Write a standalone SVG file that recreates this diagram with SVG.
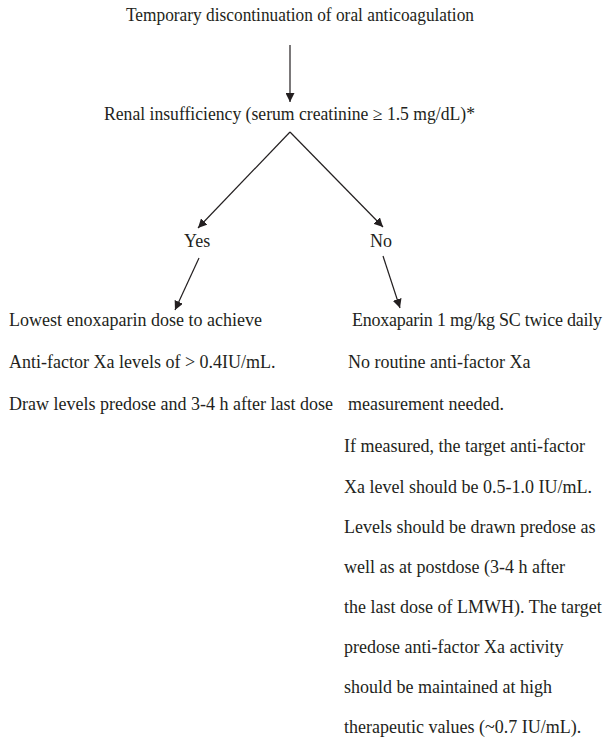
<svg xmlns="http://www.w3.org/2000/svg" width="607" height="740" viewBox="0 0 607 740">
<style>
text{font-family:"Liberation Serif","Times New Roman",serif;font-size:18px;fill:#231f20}
.c{stroke:#231f20;stroke-width:1.2;fill:none}
</style>
<defs>
<marker id="ah" viewBox="0 0 10 10" refX="10" refY="5" markerWidth="9" markerHeight="9" markerUnits="userSpaceOnUse" orient="auto">
<path d="M0,0 L10,5 L0,10 z" fill="#231f20"/>
</marker>
</defs>
<rect width="607" height="740" fill="#fff"/>
<g id="connectors">
<line class="c" x1="290" y1="45" x2="290" y2="102" stroke="#555" marker-end="url(#ah)"/>
<line class="c" x1="290" y1="132" x2="198" y2="228" marker-end="url(#ah)"/>
<line class="c" x1="290" y1="132" x2="383" y2="227" marker-end="url(#ah)"/>
<line class="c" x1="199" y1="258" x2="175" y2="310" marker-end="url(#ah)"/>
<line class="c" x1="383" y1="256" x2="400" y2="308" marker-end="url(#ah)"/>
</g>
<g id="start"><text x="126" y="21" textLength="348" lengthAdjust="spacingAndGlyphs">Temporary discontinuation of oral anticoagulation</text></g>
<g id="renal"><text x="104" y="120" textLength="371" lengthAdjust="spacingAndGlyphs">Renal insufficiency (serum creatinine ≥ 1.5 mg/dL)*</text></g>
<g id="yes"><text x="184" y="247">Yes</text></g>
<g id="no"><text x="370" y="247">No</text></g>
<g id="yes-action">
<text x="9" y="326">Lowest enoxaparin dose to achieve</text>
<text x="9" y="368">Anti-factor Xa levels of  &gt; 0.4IU/mL.</text>
<text x="9" y="410">Draw levels predose and 3-4 h after last dose</text>
</g>
<g id="no-action">
<text x="352" y="326" textLength="250">Enoxaparin 1 mg/kg SC twice daily</text>
<text x="348" y="368">No routine anti-factor Xa</text>
<text x="348" y="410">measurement needed.</text>
<text x="344" y="452">If measured, the target anti-factor</text>
<text x="344" y="493">Xa level should be 0.5-1.0 IU/mL.</text>
<text x="344" y="533">Levels should be drawn predose as</text>
<text x="344" y="573">well as at postdose (3-4 h after</text>
<text x="344" y="613">the last dose of LMWH).  The target</text>
<text x="344" y="653">predose anti-factor Xa activity</text>
<text x="344" y="693">should be maintained at high</text>
<text x="344" y="733">therapeutic values (~0.7 IU/mL).</text>
</g>
</svg>
